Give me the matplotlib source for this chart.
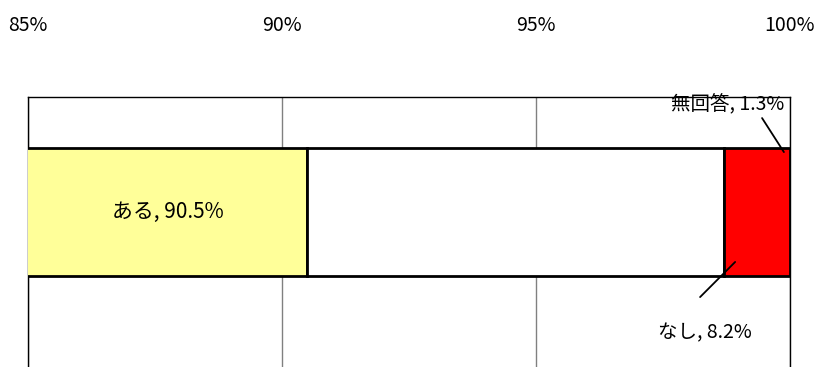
import matplotlib
matplotlib.use("Agg")
import matplotlib.pyplot as plt

labels = ['ある', 'なし', '無回答']
values = [90.5, 8.2, 1.3]
colors = ['#FFFF99', '#FFFFFF', '#FF0000']
ticks = [85, 90, 95, 100]

plt.rcParams['font.family'] = ['Noto Sans CJK JP', 'DejaVu Sans']

fig = plt.figure(figsize=(8.17, 3.67), dpi=100)
ax = fig.add_axes([28 / 817, 0.0, 762 / 817, 270 / 367])

left = 0
for lab, v, c in zip(labels, values, colors):
    ax.barh(0.574, v, left=left, height=0.474, color=c, edgecolor='black', linewidth=2, zorder=3)
    left += v

ax.set_xlim(85, 100)
ax.set_ylim(0, 1)
ax.set_xticks(ticks)
ax.set_xticklabels([f'{t}%' for t in ticks], fontsize=14)
ax.xaxis.tick_top()
ax.tick_params(axis='x', length=0, pad=44)
ax.set_yticks([])
ax.grid(axis='x', color='#808080', linewidth=1, zorder=0)
for s in ['top', 'left', 'right']:
    ax.spines[s].set_color('black')
    ax.spines[s].set_linewidth(1)
ax.spines['bottom'].set_visible(False)

ax.text((85 + values[0]) / 2, 0.574, f'{labels[0]}, {values[0]}%', ha='center', va='center', fontsize=15, zorder=5)

# 無回答 label + leader
ax.text(98.78, 0.97, f'{labels[2]}, {values[2]}%', ha='center', va='center', fontsize=14, zorder=5)
ax.annotate('', xy=(99.88, 0.796), xytext=(99.45, 0.922),
            arrowprops=dict(arrowstyle='-', color='black', lw=1.3, shrinkA=0, shrinkB=0), zorder=6)

# なし label + leader
ax.text(98.33, 0.126, f'{labels[1]}, {values[1]}%', ha='center', va='center', fontsize=14, zorder=5)
ax.annotate('', xy=(98.92, 0.389), xytext=(98.23, 0.259),
            arrowprops=dict(arrowstyle='-', color='black', lw=1.3, shrinkA=0, shrinkB=0), zorder=6)

fig.savefig('out.png', dpi=100)
